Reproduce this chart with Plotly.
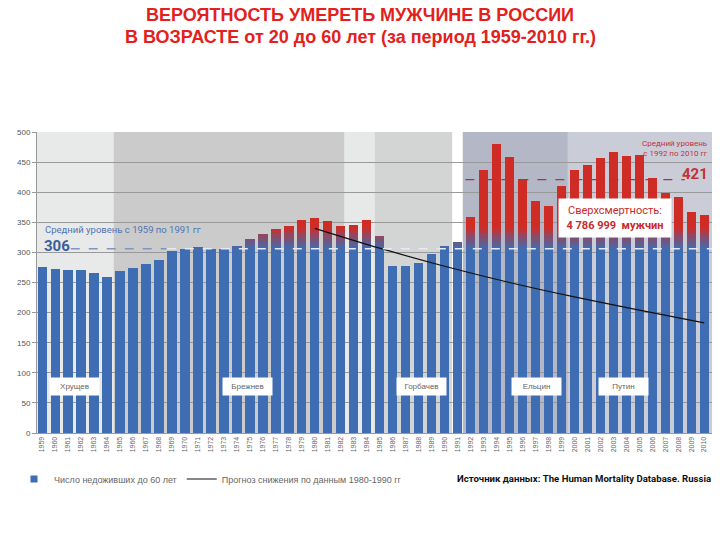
import plotly.graph_objects as go

# ---------------- data ----------------
years = list(range(1959, 2011))
deaths = [275, 272, 270, 270, 266, 259, 269, 274, 280, 288,
          303, 306, 308, 306, 306, 310, 323, 330, 339, 344,
          353, 357, 352, 343, 345, 354, 327, 278, 277, 283,
          298, 311, 317, 358, 437, 480, 458, 422, 386, 377,
          410, 437, 446, 457, 467, 460, 462, 424, 399, 392,
          367, 362]

trend_years = [1980, 1985, 1990, 1995, 2000, 2005, 2010]
trend_values = [340, 307, 277, 250, 226, 204, 183]

mean_1959_1991 = 306
mean_1992_2010 = 421

era_names = ["Хрущев", "Брежнев", "Горбачев", "Ельцин", "Путин"]
era_label_years = [1961.5, 1974.8, 1988.2, 1997.1, 2003.8]

band_starts = [1958.6, 1964.5, 1982.3, 1984.6, 1990.6, 1991.4, 1999.5]
band_ends = [1964.5, 1982.3, 1984.6, 1990.6, 1991.4, 1999.5, 2010.6]
band_colors = ["#e8e9e9", "#cbcbcb", "#e7e8e8", "#d3d4d4", "#ffffff", "#b4b7c6", "#cacdd8"]

y_ticks = list(range(0, 501, 50))

# ---------------- styling helpers ----------------
BLUE = (62, 109, 179)
RED = (207, 44, 38)
FONT_N = "Roboto, Arial, sans-serif"
FONT_A = "Arial, Liberation Sans, sans-serif"

L, R, T, B = 37, 8, 132, 107
PW, PH = 720 - L - R, 540 - T - B


def px(xp):
    return (xp - L) / PW


def py(yp):
    return (540 - B - yp) / PH


def mix(a, b, f):
    return "rgb(%d,%d,%d)" % tuple(round(a[i] + (b[i] - a[i]) * f) for i in range(3))


fig = go.Figure()

# stacked bars with a blue -> red fade above the mean level
levels = [306, 312, 318, 324, 330, 336, 342]
base = [min(v, levels[0]) for v in deaths]
fig.add_trace(go.Bar(x=years, y=base, marker_color=mix(BLUE, BLUE, 0),
                     marker_line_width=0, name="Число недоживших до 60 лет",
                     showlegend=False))
nseg = len(levels) - 1
for i in range(nseg):
    lo, hi = levels[i], levels[i + 1]
    seg = [max(0, min(v, hi) - lo) for v in deaths]
    fig.add_trace(go.Bar(x=years, y=seg, marker_color=mix(BLUE, RED, (i + 0.5) / nseg),
                         marker_line_width=0, showlegend=False, hoverinfo="skip"))
top = [max(0, v - levels[-1]) for v in deaths]
fig.add_trace(go.Bar(x=years, y=top, marker_color=mix(RED, RED, 0),
                     marker_line_width=0, showlegend=False))

# legend entry for the bars (small square key as in the original)
fig.add_trace(go.Scatter(x=[None], y=[None], mode="markers",
                         marker=dict(symbol="square", size=7, color=mix(BLUE, BLUE, 0)),
                         name="Число недоживших до 60 лет"))

fig.add_trace(go.Scatter(x=trend_years, y=trend_values, mode="lines",
                         line=dict(color="#111111", width=1.2, shape="spline"),
                         name="Прогноз снижения по данным 1980-1990 гг"))

shapes = []
for s, e, c in zip(band_starts, band_ends, band_colors):
    shapes.append(dict(type="rect", xref="x", yref="y", x0=s, x1=e, y0=0, y1=500,
                       fillcolor=c, line_width=0, layer="below"))
# mean lines
shapes.append(dict(type="line", xref="x", yref="y", x0=1961.2, x1=1968.6,
                   y0=mean_1959_1991, y1=mean_1959_1991,
                   line=dict(color="#7f96c0", width=1.5, dash="dash")))
shapes.append(dict(type="line", xref="x", yref="y", x0=1968.6, x1=2010.6,
                   y0=mean_1959_1991, y1=mean_1959_1991,
                   line=dict(color="#e4ebf6", width=1.5, dash="dash")))
shapes.append(dict(type="line", xref="x", yref="y", x0=1991.6, x1=2008.5,
                   y0=mean_1992_2010, y1=mean_1992_2010,
                   line=dict(color="#b0343c", width=1.3, dash="dash")))

annotations = []


def note(text, xp, yp, size, color, family=FONT_N, xanchor="center", **kw):
    annotations.append(dict(text=text, xref="paper", yref="paper", x=px(xp), y=py(yp),
                            xanchor=xanchor, yanchor="middle", showarrow=False,
                            font=dict(family=family, size=size, color=color), **kw))


note("<b>ВЕРОЯТНОСТЬ УМЕРЕТЬ МУЖЧИНЕ В РОССИИ</b>", 360, 15, 18, "#e3201b", FONT_A)
note("<b>В ВОЗРАСТЕ от 20 до 60 лет (за период 1959-2010 гг.)</b>", 360, 37, 18, "#e3201b", FONT_A)
note("Средний уровень с 1959 по 1991 гг", 43, 229, 9.5, "#4f74b2", xanchor="left")
note("<b>%d</b>" % mean_1959_1991, 42, 246, 15, "#3a5e9e", xanchor="left")
note("Средний уровень<br>с 1992 по 2010 гг", 710, 148, 8, "#c0343a", xanchor="right", align="right")
note("<b>%d</b>" % mean_1992_2010, 710, 174, 15, "#c0343a", xanchor="right")
note("<b>Источник данных: The Human Mortality Database. Russia</b>", 455, 479, 9.6, "#111111",
     xanchor="left")

annotations.append(dict(text="Сверхсмертность:<br><b>4 786 999&nbsp;&nbsp;мужчин</b>",
                        xref="x", yref="y", x=2003.1, y=357, showarrow=False,
                        width=110, height=36, bgcolor="#ffffff", align="center",
                        font=dict(family=FONT_N, size=11, color="#c72b2b")))
for name, yr in zip(era_names, era_label_years):
    annotations.append(dict(text=name, xref="x", yref="y", x=yr, y=78, showarrow=False,
                            width=47, height=15, bgcolor="#ffffff",
                            font=dict(family=FONT_A, size=8, color="#666666")))

fig.update_layout(
    width=720, height=540,
    margin=dict(l=L, r=R, t=T, b=B, autoexpand=False),
    barmode="stack", bargap=0.28,
    paper_bgcolor="#ffffff", plot_bgcolor="#ffffff",
    shapes=shapes, annotations=annotations,
    legend=dict(orientation="h", x=px(14), xanchor="left", y=py(479), yanchor="middle",
                font=dict(family=FONT_A, size=9, color="#666666"),
                itemwidth=30, traceorder="normal", bgcolor="rgba(0,0,0,0)"),
    xaxis=dict(range=[1958.6, 2010.6], tickmode="array", tickvals=years,
               ticktext=[str(y) for y in years], tickangle=-90,
               tickfont=dict(family=FONT_A, size=7, color="#666666"),
               showgrid=False, showline=True, linecolor="#999999", ticks="", zeroline=False),
    yaxis=dict(range=[0, 500], tickvals=y_ticks, showgrid=True, gridcolor="#999999",
               gridwidth=1, tickfont=dict(family=FONT_A, size=8, color="#555555"),
               ticks="outside", ticklen=4, tickcolor="#999999", showline=True,
               linecolor="#999999", zeroline=False),
    showlegend=True,
)

fig.write_html("out.html", config={"displayModeBar": False},
               post_script="document.body.style.margin='0';")
